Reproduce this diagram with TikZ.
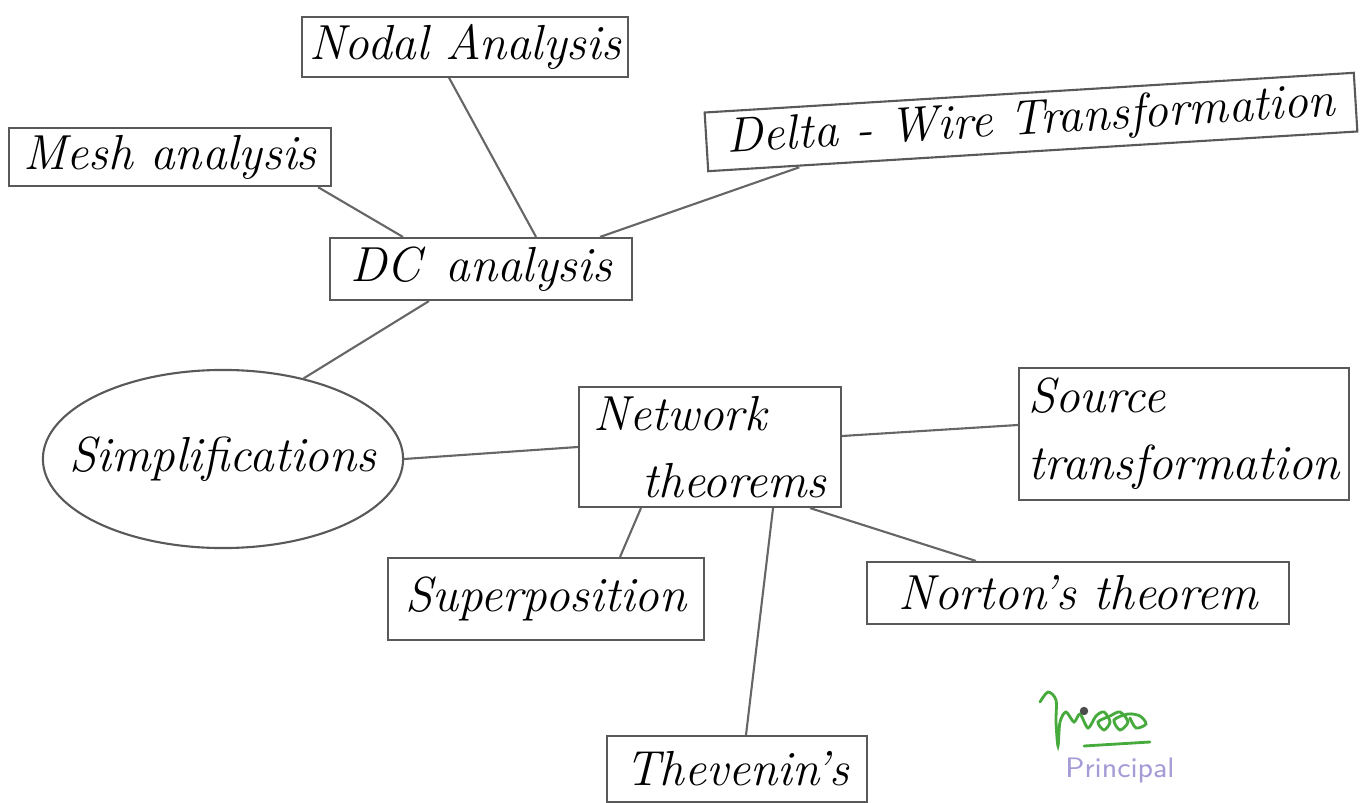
\documentclass[tikz,border=0pt]{standalone}
\usepackage{tikz}
\usetikzlibrary{shapes.geometric}
\definecolor{stampblue}{RGB}{165,155,215}
\definecolor{inkgreen}{RGB}{70,170,60}

\begin{document}
\begin{tikzpicture}[x=0.01cm,y=-0.01cm,
    topic/.style={draw=black!65,line width=0.6pt,inner sep=2pt,
      font=\fontsize{14}{19}\selectfont\itshape},
    hub/.style={topic,ellipse,inner xsep=-0.3cm},
    link/.style={draw=black!60,line width=0.6pt}]
          \useasboundingbox (0,0) rectangle (1360,803);
          % boxes of the map
          \node[topic,minimum width=3.25cm,minimum height=0.58cm] (nodal) at (465,47) {Nodal Analysis};
          \node[topic,minimum width=3.22cm,minimum height=0.55cm] (mesh) at (170,157) {Mesh analysis};
          \node[topic,minimum width=6.5cm,minimum height=0.52cm,rotate=3.5] (delta) at (1031,122) {Delta - Wire Transformation};
          \node[topic,minimum width=3.02cm,minimum height=0.62cm] (dc) at (481,269) {DC\enspace analysis};
          \node[hub,minimum width=3.6cm,minimum height=1.78cm] (simp) at (223,459) {Simplifications};
          \node[topic,minimum width=2.62cm,minimum height=1.2cm,align=left] (net) at (710,447) {Network\\\quad theorems};
          \node[topic,minimum width=3.3cm,minimum height=1.32cm,align=left] (src) at (1184,434) {Source\\transformation};
          \node[topic,minimum width=3.16cm,minimum height=0.82cm] (sup) at (546,599) {Superposition};
          \node[topic,minimum width=4.21cm,minimum height=0.62cm] (nor) at (1078,593) {Norton's theorem};
          \node[topic,minimum width=2.6cm,minimum height=0.66cm] (thev) at (737,769) {Thevenin's};
          % connectors
          \draw[link] ([xshift=1.48cm]mesh.south) -- ([xshift=-0.78cm]dc.north);
          \draw[link] ([xshift=-0.16cm]nodal.south) -- ([xshift=0.55cm]dc.north);
          \draw[link] ([xshift=0.92cm,yshift=0.05cm]delta.south west) -- ([xshift=1.19cm]dc.north);
          \draw[link] ([xshift=-0.52cm]dc.south) -- (simp.45);
          \draw[link] (simp.east) -- (net.west);
          \draw[link] ([yshift=0.11cm]net.east) -- ([yshift=0.09cm]src.west);
          \draw[link] ([xshift=-0.69cm]net.south) -- ([xshift=0.74cm]sup.north);
          \draw[link] ([xshift=0.63cm]net.south) -- ([xshift=0.09cm]thev.north);
          \draw[link] ([xshift=1.0cm]net.south) -- ([xshift=-1.02cm]nor.north);
          % signature and stamp
          \draw[inkgreen,line width=0.8pt,line cap=round] plot[smooth] coordinates
            {(1040,702) (1048,692) (1056,700) (1056,722) (1058,746) (1060,722) (1066,712)
             (1074,722) (1080,714) (1088,728) (1096,716) (1104,712) (1110,722) (1104,730)
             (1098,722) (1110,716) (1120,712) (1128,722) (1120,730) (1114,720) (1128,714)
             (1140,716) (1146,724) (1136,728) (1130,718)};
          \draw[inkgreen,line width=0.8pt,line cap=round] (1084,746) -- (1150,742);
          \fill[black!70] (1084,711) circle (1.2pt);
          \node[font=\sffamily\fontsize{8}{9}\selectfont,text=stampblue] (stamp) at (1120,770) {Principal};
        \end{tikzpicture}
\end{document}
